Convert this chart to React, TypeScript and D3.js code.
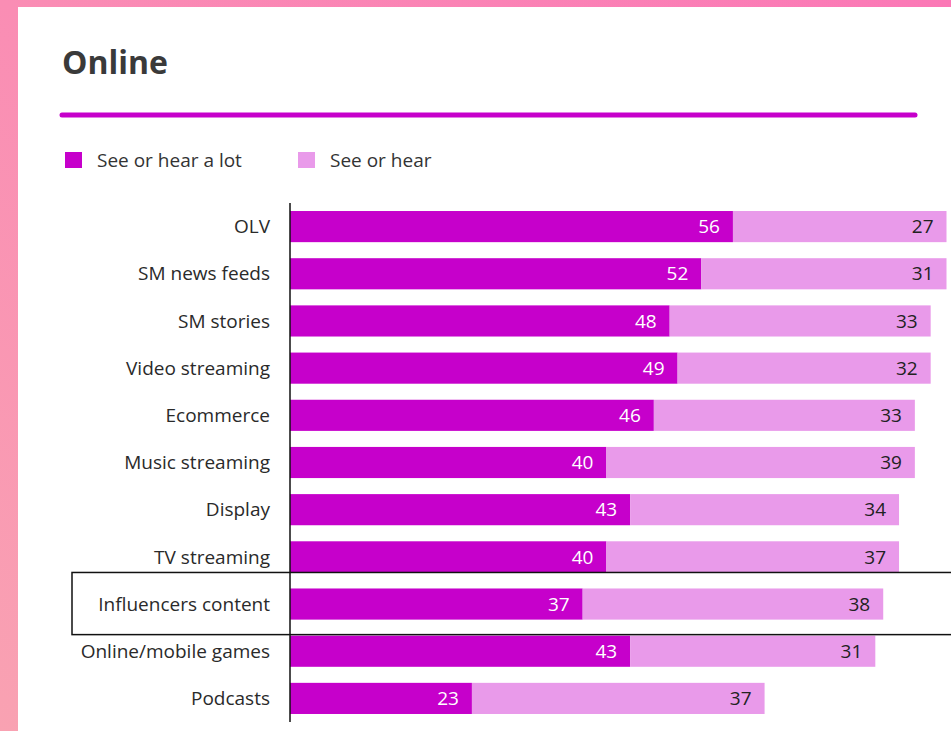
import React from "react";
import * as d3 from "d3";

const categories = [
  "OLV",
  "SM news feeds",
  "SM stories",
  "Video streaming",
  "Ecommerce",
  "Music streaming",
  "Display",
  "TV streaming",
  "Influencers content",
  "Online/mobile games",
  "Podcasts",
];
const seeOrHearALot = [56, 52, 48, 49, 46, 40, 43, 40, 37, 43, 23];
const seeOrHear = [27, 31, 33, 32, 33, 39, 34, 37, 38, 31, 37];
const seriesNames = ["See or hear a lot", "See or hear"];
const highlighted = "Influencers content";

const W = 951;
const H = 731;
const DARK = "#c600cb";
const LIGHT = "#e99aea";
const FONT = "'Open Sans', 'Noto Sans', sans-serif";

export default function App() {
  const x = d3.scaleLinear().domain([0, 83]).range([290, 946.5]);
  const y = d3.scaleBand<string>().domain(categories).range([203, 722]).paddingInner(0.34).paddingOuter(0.17);
  const bh = y.bandwidth();
  const hy = (y(highlighted) ?? 0) - 16;

  return (
    <svg width={W} height={H} style={{ position: "fixed", left: 0, top: 0 }} fontFamily={FONT}>
      <defs>
        <linearGradient id="bg" x1="0" y1="1" x2="1" y2="0">
          <stop offset="0" stopColor="#f9a2b2" />
          <stop offset="1" stopColor="#fb78b6" />
        </linearGradient>
      </defs>
      <rect x={0} y={0} width={W} height={H} fill="url(#bg)" />
      <rect x={18} y={7} width={W - 18} height={H - 7} fill="#ffffff" />
      <text x={62} y={74} fontSize={32} fontWeight={700} fill="#3a3a3a">Online</text>
      <line x1={62} x2={915} y1={115} y2={115} stroke={DARK} strokeWidth={5} strokeLinecap="round" />
      {seriesNames.map((n, i) => (
        <g key={n} transform={`translate(${i === 0 ? 65 : 298},152)`}>
          <rect width={17} height={16} fill={i === 0 ? DARK : LIGHT} />
          <text x={32} y={8} dy="0.35em" fontSize={19} fill="#333">{n}</text>
        </g>
      ))}
      {categories.map((c, i) => {
        const y0 = y(c) ?? 0;
        const a = seeOrHearALot[i];
        const b = seeOrHear[i];
        return (
          <g key={c}>
            <rect x={x(0)} y={y0} width={x(a) - x(0)} height={bh} fill={DARK} />
            <rect x={x(a)} y={y0} width={x(a + b) - x(a)} height={bh} fill={LIGHT} />
            <text x={x(a) - 13} y={y0 + bh / 2} dy="0.35em" textAnchor="end" fontSize={19} fill="#ffffff">{a}</text>
            <text x={x(a + b) - 13} y={y0 + bh / 2} dy="0.35em" textAnchor="end" fontSize={19} fill="#222">{b}</text>
            <text x={270} y={y0 + bh / 2} dy="0.35em" textAnchor="end" fontSize={19} fill="#2a2a2a">{c}</text>
          </g>
        );
      })}
      <line x1={290} x2={290} y1={203} y2={722} stroke="#111" strokeWidth={1.5} />
      <rect x={72} y={hy} width={W} height={bh + 31} fill="none" stroke="#111" strokeWidth={1.5} />
    </svg>
  );
}
